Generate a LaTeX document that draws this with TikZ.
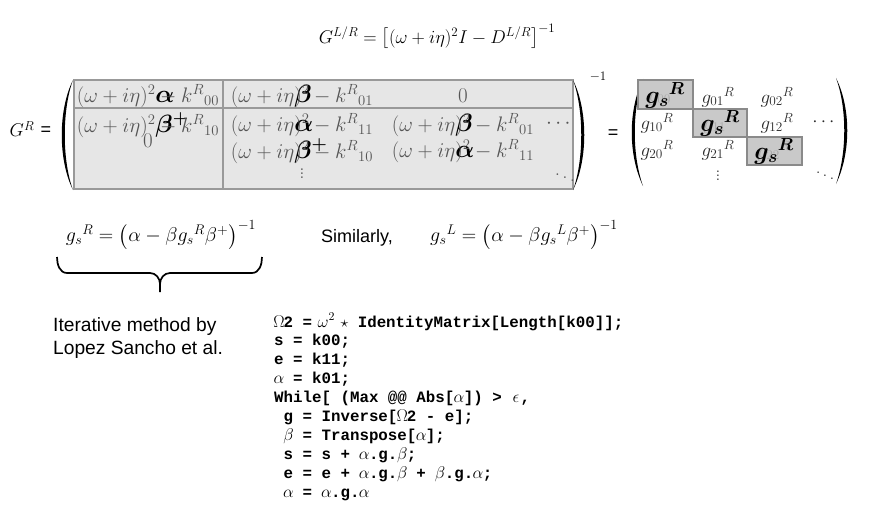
\RequirePackage{fix-cm}
\documentclass[tikz,border=0pt]{standalone}
\usepackage{amsmath}
\usepackage{fontspec}
\newfontfamily\arialfont{Liberation Sans}
\newfontfamily\courfont{Liberation Mono}

\definecolor{cellfill}{HTML}{E6E6E6}
\definecolor{cellline}{HTML}{999999}
\definecolor{celltext}{HTML}{555555}
\definecolor{gfill}{HTML}{C9C9C9}
\definecolor{gline}{HTML}{8A8A8A}
\definecolor{gtext}{HTML}{2A2A2A}
\definecolor{gfaint}{HTML}{A8A8A8}

\newcommand{\ovl}[1]{\rlap{\color{black}\fontsize{25}{25}\selectfont$\boldsymbol{#1}$}}
\newcommand{\gk}[1]{\makebox[0.6em]{\fontsize{17}{17}\selectfont$#1$}}

\tikzset{
  eq/.style={font=\fontsize{18.5}{22}\selectfont, inner sep=0pt},
  cellent/.style={font=\fontsize{21}{24}\selectfont, text=celltext, inner sep=0pt},
  gent/.style={font=\fontsize{19}{22}\selectfont, text=gtext, inner sep=0pt},
  gfnt/.style={font=\fontsize{19}{22}\selectfont, text=gfaint, inner sep=0pt},
  gsbold/.style={font=\fontsize{25}{28}\selectfont, inner sep=0pt},
  sanslabel/.style={font=\arialfont\fontsize{18}{22.5}\selectfont, inner sep=0pt},
  codetext/.style={font=\courfont\bfseries\fontsize{15.8}{18.9}\selectfont, align=left, inner sep=0pt},
  cellbox/.style={fill=cellfill, draw=cellline, line width=1.3pt},
  cellrule/.style={draw=cellline, line width=1.3pt},
  gcell/.style={fill=gfill, draw=gline, line width=1.3pt},
  bracepath/.style={line width=1.7pt}
}

\begin{document}
\begin{tikzpicture}[x=1pt, y=-1pt]
  \useasboundingbox (0,0) rectangle (890,505);

  \node[eq] (glr) at (437,37) {$G^{L/R} = \bigl[(\omega + i\eta)^2 I - D^{L/R}\bigr]^{-1}$};

  \node[eq] (gr) at (22,129) {$G^R$};
  \node[sanslabel] (eqa) at (46,131) {=};

  \draw[cellbox] (74,80) rectangle (573,189);
  \draw[cellrule] (223,80) -- (223,189);
  \draw[cellrule] (74,108) -- (573,108);

  \fill (73,80) .. controls (58,110) and (58,160) .. (73,190) .. controls (62,160) and (62,110) .. (73,80);
  \fill (573,80) .. controls (588,110) and (588,160) .. (573,190) .. controls (584,160) and (584,110) .. (573,80);

  \node[cellent] (k00) at (148,96) {$(\omega + i\eta)^2\ovl{\alpha} - k^R{}_{00}$};
  \node[cellent] (k01) at (302,96) {$(\omega + i\eta\ovl{\beta})^2 - k^R{}_{01}$};
  \node[cellent] (z02) at (463,96) {$0$};

  \node[cellent] (k10) at (148,125) {$(\omega + i\eta)^2\ovl{\beta^{+}} - k^R{}_{10}$};
  \node[cellent] (k11) at (302,125) {$(\omega + i\eta\ovl{\alpha})^2 - k^R{}_{11}$};
  \node[cellent] (k12) at (463,125) {$(\omega + i\eta\ovl{\beta})^2 - k^R{}_{01}$};
  \node[cellent] (cdl) at (560,124) {$\cdots$};

  \node[cellent] (z20) at (148,141) {$0$};
  \node[cellent] (k21) at (302,151) {$(\omega + i\eta\ovl{\beta^{+}})^2 - k^R{}_{10}$};
  \node[cellent] (k22) at (463,151) {$(\omega + i\eta\ovl{\alpha})^2 - k^R{}_{11}$};
  \node[cellent] (vdl) at (302,171) {$\vdots$};
  \node[cellent] (ddl) at (565,175) {$\ddots$};

  \node[eq, font=\fontsize{13}{15}\selectfont] (inv) at (598,77) {$-1$};
  \node[sanslabel] (eqb) at (613,134) {=};

  \fill (643,79) .. controls (628,110) and (628,155) .. (643,186) .. controls (632,155) and (632,110) .. (643,79);
  \fill (836,78) .. controls (851,108) and (851,153) .. (836,184) .. controls (847,153) and (847,108) .. (836,78);

  \draw[gcell] (638,80) rectangle (693,109);
  \draw[gcell] (693,109) rectangle (747,137);
  \draw[gcell] (747,137) rectangle (802,165);

  \node[gfnt] (g00) at (665,95) {$g_{00}{}^R$};
  \node[gfnt] (g11) at (720,123) {$g_{11}{}^R$};
  \node[gfnt] (g22) at (774,151) {$g_{22}{}^R$};
  \node[gsbold] (gs0) at (665,95) {$\boldsymbol{g_s{}^{R}}$};
  \node[gsbold] (gs1) at (720,123) {$\boldsymbol{g_s{}^{R}}$};
  \node[gsbold] (gs2) at (774,151) {$\boldsymbol{g_s{}^{R}}$};

  \node[gent] (g01) at (718,97) {$g_{01}{}^R$};
  \node[gent] (g02) at (777,97) {$g_{02}{}^R$};
  \node[gent] (g10) at (657,123) {$g_{10}{}^R$};
  \node[gent] (g12) at (777,123) {$g_{12}{}^R$};
  \node[gent] (gcd) at (825,122) {$\cdots$};
  \node[gent] (g20) at (657,150) {$g_{20}{}^R$};
  \node[gent] (g21) at (718,150) {$g_{21}{}^R$};
  \node[gent] (gvd) at (718,173) {$\vdots$};
  \node[gent] (gdd) at (825,173) {$\ddots$};

  \node[eq, font=\fontsize{20}{24}\selectfont] (gsr) at (161,235) {$g_s{}^R = \bigl(\alpha - \beta g_s{}^R\beta^{+}\bigr)^{-1}$};
  \node[sanslabel] (sim) at (357,238) {Similarly,};
  \node[eq, font=\fontsize{20}{24}\selectfont] (gsl) at (524,235) {$g_s{}^L = \bigl(\alpha - \beta g_s{}^L\beta^{+}\bigr)^{-1}$};

  \draw[bracepath] (57,257) to[out=-90, in=180] (67,273) -- (150,273) to[out=0, in=90] (160,284) -- (160,292);
  \draw[bracepath] (262,257) to[out=-90, in=0] (252,273) -- (170,273) to[out=180, in=90] (160,284);

  \node[sanslabel, font=\arialfont\fontsize{19.2}{22.5}\selectfont, anchor=west, align=left] (iter) at (53,338) {Iterative method by\\Lopez Sancho et al.};

  \node[codetext, anchor=north west] (code) at (274,313) {%
    \gk{\Omega}2 = \gk{\omega^2} $\star$ IdentityMatrix[Length[k00]];\\
    s = k00;\\
    e = k11;\\
    \gk{\alpha} = k01;\\
    While[ (Max @@ Abs[\gk{\alpha}]) > \gk{\epsilon},\\
    \hspace*{0.6em}g = Inverse[\gk{\Omega}2 - e];\\
    \hspace*{0.6em}\gk{\beta} = Transpose[\gk{\alpha}];\\
    \hspace*{0.6em}s = s + \gk{\alpha}.g.\gk{\beta};\\
    \hspace*{0.6em}e = e + \gk{\alpha}.g.\gk{\beta} + \gk{\beta}.g.\gk{\alpha};\\
    \hspace*{0.6em}\gk{\alpha} = \gk{\alpha}.g.\gk{\alpha}};
\end{tikzpicture}
\end{document}
